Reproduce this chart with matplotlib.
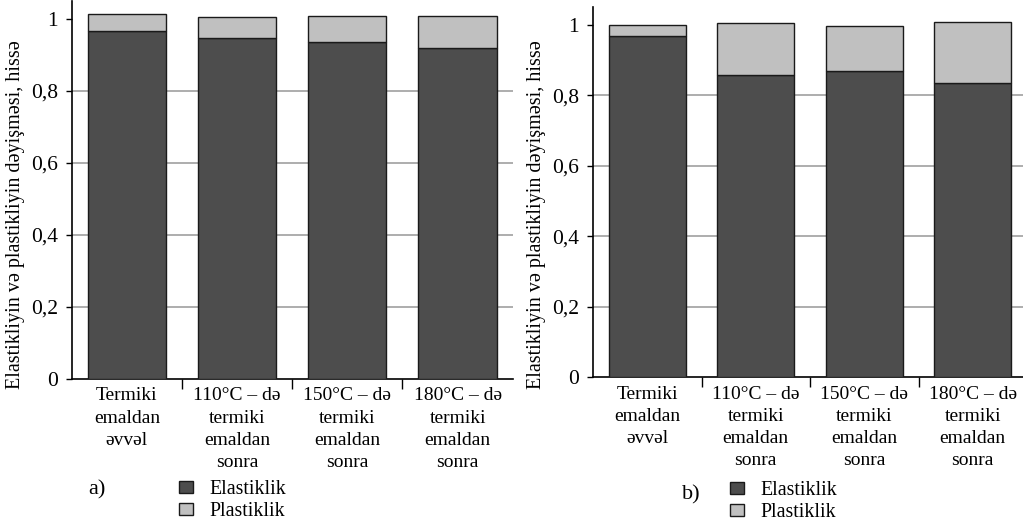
import matplotlib
matplotlib.use('Agg')
import matplotlib.pyplot as plt
from matplotlib.patches import Patch

plt.rcParams['font.family'] = ['Liberation Serif', 'DejaVu Serif']

categories = ['Termiki\nemaldan\nəvvəl',
              '110°C – də\ntermiki\nemaldan\nsonra',
              '150°C – də\ntermiki\nemaldan\nsonra',
              '180°C – də\ntermiki\nemaldan\nsonra']

# a) panel
elastic_a = [0.967, 0.948, 0.935, 0.920]
plastic_a = [0.046, 0.058, 0.074, 0.089]
# b) panel
elastic_b = [0.970, 0.858, 0.869, 0.834]
plastic_b = [0.030, 0.147, 0.129, 0.175]

yticks = [0, 0.2, 0.4, 0.6, 0.8, 1.0]
ytick_labels = ['0', '0,2', '0,4', '0,6', '0,8', '1']
ylabel = 'Elastikliyin və plastikliyin dəyişməsi, hissə'
legend_labels = ['Elastiklik', 'Plastiklik']

c_el = '#4d4d4d'
c_pl = '#c0c0c0'
edge = '#1a1a1a'

W, H = 1023, 522
fig = plt.figure(figsize=(W / 100, H / 100), dpi=100)


def panel(rect, elastic, plastic):
    ax = fig.add_axes(rect)
    x = range(len(categories))
    ax.bar(x, elastic, width=0.71, color=c_el, edgecolor=edge, linewidth=1, zorder=3)
    ax.bar(x, plastic, width=0.71, bottom=elastic, color=c_pl, edgecolor=edge,
           linewidth=1, zorder=3)
    ax.set_xlim(-0.5, len(categories) - 0.5)
    ax.set_ylim(0, 1.05)
    ax.set_yticks(yticks)
    ax.set_yticklabels(ytick_labels, fontsize=15.5)
    ax.set_xticks(list(x))
    ax.set_xticklabels(categories, fontsize=14, linespacing=1.4)
    ax.tick_params(axis='x', length=0, pad=6)
    ax.tick_params(axis='y', direction='out', length=4, width=1, pad=6)
    ax.set_xticks([i + 0.5 for i in range(len(categories) - 1)], minor=True)
    ax.tick_params(axis='x', which='minor', direction='out', length=7, width=1)
    ax.grid(axis='y', color='#a0a0a0', linewidth=1.2, zorder=0)
    gl = ax.yaxis.get_gridlines()
    gl[0].set_visible(False)
    gl[-1].set_visible(False)
    for s in ['top', 'right']:
        ax.spines[s].set_visible(False)
    ax.spines['left'].set_linewidth(1.2)
    ax.spines['bottom'].set_linewidth(1.2)
    return ax


ax_a = panel([71.7 / W, 1 - 379 / H, 441 / W, 1.05 * 360 / H], elastic_a, plastic_a)
ax_b = panel([593 / W, 1 - 377.3 / H, 434 / W, 1.05 * 352.3 / H], elastic_b, plastic_b)

fig.text(16 / W, 1 - 215 / H, ylabel, rotation=90, ha='center', va='center', fontsize=14.5)
fig.text(536 / W, 1 - 215 / H, ylabel, rotation=90, ha='center', va='center', fontsize=14.5)

fig.text(88 / W, 1 - 490 / H, 'a)', fontsize=16, ha='left', va='center')
fig.text(682 / W, 1 - 495 / H, 'b)', fontsize=16, ha='left', va='center')

handles = [Patch(facecolor=c_el, edgecolor=edge), Patch(facecolor=c_pl, edgecolor=edge)]
for xy in [(179, 480), (730, 481)]:
    fig.legend(handles, legend_labels, loc='upper left',
               bbox_to_anchor=(xy[0] / W, 1 - xy[1] / H), frameon=False,
               fontsize=14.3, handlelength=0.7, handleheight=0.55, handletextpad=0.85,
               labelspacing=0.15, borderpad=0, borderaxespad=0)

fig.savefig('out.png', dpi=100)
